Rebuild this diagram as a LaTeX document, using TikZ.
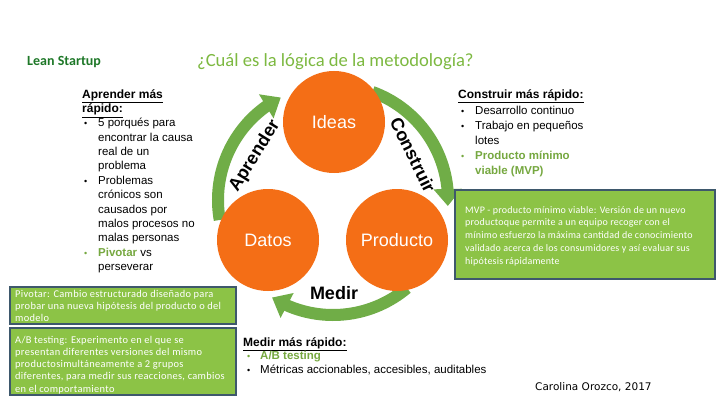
\documentclass[tikz,border=0pt]{standalone}
\usepackage{fontspec}
\setmainfont{Liberation Sans}
\newfontfamily\calfont{Carlito}
\newfontfamily\calboxfont[LetterSpace=3]{Carlito}
\newfontfamily\calmvpfont[LetterSpace=2]{Carlito}
\newfontfamily\dvsfont{DejaVu Sans}
\usetikzlibrary{arrows.meta,bending}
\definecolor{orng}{RGB}{244,110,22}
\definecolor{arcg}{RGB}{112,173,71}
\definecolor{boxg}{RGB}{140,195,70}
\definecolor{boxb}{RGB}{62,88,108}
\definecolor{titg}{RGB}{125,185,65}
\definecolor{leang}{RGB}{30,120,40}
\definecolor{txtg}{RGB}{118,168,64}
\begin{document}
\begin{tikzpicture}[x=1pt,y=1pt,
  ln/.style={anchor=base west, inner sep=0pt, font=\fontsize{11.5}{13}\selectfont},
  hd/.style={anchor=base west, inner sep=0pt, font=\fontsize{12}{13}\selectfont\bfseries},
  bul/.style={anchor=base west, inner sep=0pt, font=\fontsize{9}{13}\selectfont},
  bx/.style={anchor=base west, inner sep=0pt, text=white, font=\calboxfont\fontsize{10.4}{12}\selectfont},
  bxm/.style={anchor=base west, inner sep=0pt, text=white, font=\calmvpfont\fontsize{10}{12}\selectfont},
  gbox/.style={draw=boxb, line width=2.5pt, fill=boxg},
  circ/.style={circle, fill=orng, minimum size=102pt, inner sep=0pt, text=white, font=\fontsize{18}{20}\selectfont},
  ring/.style={draw=arcg, line width=12pt, -{Triangle[length=17pt,width=27pt]}},
  lbl/.style={inner sep=0pt, font=\fontsize{18}{18}\selectfont\bfseries},
]
\useasboundingbox (0,0) rectangle (720,405);
\fill[white] (0,0) rectangle (720,405);

% titles
\node[anchor=base west, inner sep=0pt, text=leang, font=\calfont\bfseries\fontsize{14}{15}\selectfont] (lean) at (27,339) {Lean Startup};
\node[anchor=base west, inner sep=0pt, text=titg, font=\calfont\fontsize{18.6}{20}\selectfont] (title) at (197,338) {¿Cuál es la lógica de la metodología?};

% cycle
\coordinate (C) at (333,205);
\draw[ring] ([shift={(190:115pt)}]C) arc[start angle=190,end angle=117,radius=115pt];
\draw[ring] ([shift={(70:115pt)}]C) arc[start angle=70,end angle=-3,radius=115pt];
\draw[ring] ([shift={(-50:115pt)}]C) arc[start angle=-50,end angle=-122,radius=115pt];

\node[circ] (ideas) at (334,283) {Ideas};
\node[circ] (datos) at (268,165) {Datos};
\node[circ] (prod) at (397,165) {Producto};

\node[lbl, rotate=58] (aprender) at (255,249) {Aprender};
\node[lbl, rotate=-64] (construir) at (413,250) {Construir};
\node[lbl, anchor=base] (medir) at (334,105.5) {Medir};

% left column
\node[hd] (lh1) at (82,306.5) {\underline{Aprender más}};
\node[hd] (lh2) at (82,292.1) {\underline{rápido:}};
\foreach \txt [count=\i] in {5 porqués para,encontrar la causa,real de un,problema,Problemas,crónicos son,causados por,malos procesos no,malas personas,{\textcolor{txtg}{\bfseries Pivotar} vs},perseverar}
  \node[ln] (l\i) at (98,{278.3-14.4*(\i-1)}) {\txt};
\node[bul] (lb1) at (84,278.3) {•};
\node[bul] (lb2) at (84,220.7) {•};
\node[bul, text=txtg] (lb3) at (84,148.7) {•};

% right column
\node[hd] (rh) at (458,306.5) {\underline{Construir más rápido:}};
\node[ln] (r1) at (475,290.7) {Desarrollo continuo};
\node[ln] (r2) at (475,275.7) {Trabajo en pequeños};
\node[ln] (r3) at (475,261) {lotes};
\node[ln, text=txtg, font=\fontsize{11.5}{13}\selectfont\bfseries] (r4) at (475,245.5) {Producto mínimo};
\node[ln, text=txtg, font=\fontsize{11.5}{13}\selectfont\bfseries] (r5) at (475,231) {viable (MVP)};
\node[bul] (rb1) at (461,290.7) {•};
\node[bul] (rb2) at (461,275.7) {•};
\node[bul, text=txtg] (rb3) at (461,245.5) {•};

% bottom column
\node[hd] (bh) at (243,59) {\underline{Medir más rápido:}};
\node[ln, text=txtg, font=\fontsize{11.5}{13}\selectfont\bfseries] (b1) at (260,46) {A/B testing};
\node[ln] (b2) at (260,31.7) {Métricas accionables, accesibles, auditables};
\node[bul, text=txtg] (bb1) at (247,46) {•};
\node[bul] (bb2) at (247,31.7) {•};

% green boxes
\draw[gbox] (455,126) rectangle (715,215);
\foreach \txt [count=\i] in {MVP - producto mínimo viable: Versión de un nuevo,productoque permite a un equipo recoger con el,mínimo esfuerzo la máxima cantidad de conocimiento,validado acerca de los consumidores y así evaluar sus,hipótesis rápidamente}
  \node[bxm] (m\i) at (465,{192-12.8*(\i-1)}) {\txt};

\draw[gbox] (10,81) rectangle (236,118);
\foreach \txt [count=\i] in {Pivotar: Cambio estructurado diseñado para,probar una nueva hipótesis del producto o del,modelo}
  \node[bx] (p\i) at (15,{108-12*(\i-1)}) {\txt};

\draw[gbox] (10,10) rectangle (236,77);
\foreach \txt [count=\i] in {A/B testing: Experimento en el que se,presentan diferentes versiones del mismo,productosimultáneamente a 2 grupos,{diferentes, para medir sus reacciones, cambios},en el comportamiento}
  \node[bx] (a\i) at (15,{62-12.25*(\i-1)}) {\txt};

% author
\node[anchor=base west, inner sep=0pt, font=\dvsfont\fontsize{10.5}{12}\selectfont] (author) at (535,15) {Carolina Orozco, 2017};
\end{tikzpicture}
\end{document}
